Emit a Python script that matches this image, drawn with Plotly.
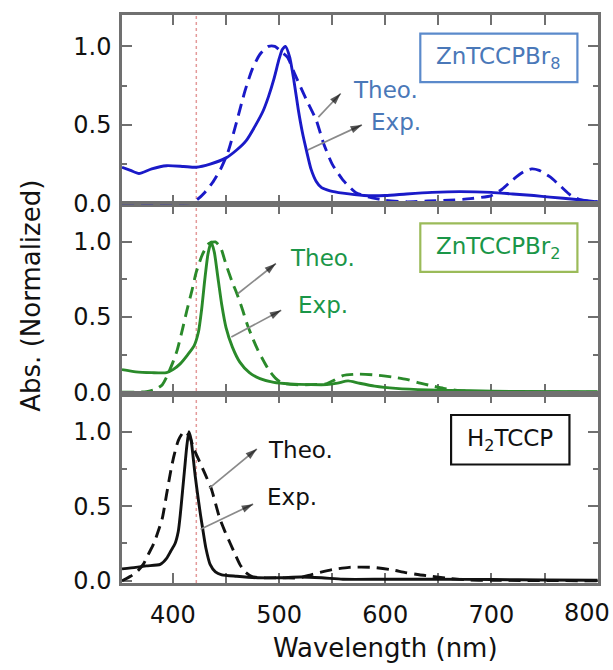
import plotly.graph_objects as go
from plotly.subplots import make_subplots

# ---------------- data ----------------
# Panel 1: ZnTCCPBr8 (blue)
br8_exp_wl = [352, 360, 368, 380, 394, 410, 422, 435, 450, 460, 469, 478, 485, 490, 495, 500, 503, 506, 510, 514,
              518, 522, 526, 530, 535, 540, 548, 560, 580, 600, 620, 644, 670, 700, 720, 740, 755, 780, 800]
br8_exp_val = [0.23, 0.21, 0.19, 0.22, 0.24, 0.235, 0.23, 0.25, 0.29, 0.34, 0.40, 0.50, 0.59, 0.68, 0.79, 0.92, 0.98,
               1.0, 0.93, 0.78, 0.60, 0.45, 0.33, 0.22, 0.14, 0.10, 0.08, 0.065, 0.05, 0.05, 0.06, 0.07, 0.075, 0.07,
               0.06, 0.05, 0.04, 0.025, 0.01]
br8_theo_wl = [352, 400, 415, 422, 430, 437, 445, 452, 460, 468, 475, 482, 490, 496, 503, 508, 515, 525, 535, 542,
               550, 560, 572, 585, 600, 620, 640, 660, 680, 700, 710, 720, 730, 738, 745, 755, 765, 775, 785, 800]
br8_theo_val = [0.0, 0.0, 0.003, 0.02, 0.07, 0.13, 0.22, 0.33, 0.52, 0.72, 0.86, 0.95, 1.0, 1.0, 0.96, 0.93, 0.82,
                0.67, 0.53, 0.38, 0.25, 0.15, 0.07, 0.04, 0.02, 0.01, 0.015, 0.02, 0.03, 0.05, 0.09, 0.15, 0.20,
                0.22, 0.21, 0.17, 0.11, 0.05, 0.02, 0.01]

# Panel 2: ZnTCCPBr2 (green)
br2_exp_wl = [352, 365, 380, 394, 400, 407, 414, 420, 424, 427, 430, 433, 436, 439, 442, 446, 450, 456, 463, 472,
              482, 495, 510, 530, 545, 555, 565, 575, 590, 610, 640, 680, 720, 800]
br2_exp_val = [0.15, 0.135, 0.13, 0.13, 0.15, 0.19, 0.25, 0.31, 0.40, 0.55, 0.75, 0.92, 1.0, 0.93, 0.78, 0.58, 0.43,
               0.30, 0.20, 0.13, 0.09, 0.065, 0.055, 0.05, 0.05, 0.06, 0.075, 0.06, 0.04, 0.025, 0.015, 0.01, 0.005,
               0.003]
br2_theo_wl = [352, 375, 384, 390, 394, 400, 404, 409, 413, 418, 422, 428, 434, 440, 445, 450, 456, 460, 465, 470,
               475, 480, 486, 491, 497, 503, 515, 530, 544, 552, 560, 575, 590, 607, 620, 630, 642, 655, 670, 690, 800]
br2_theo_val = [0.0, 0.003, 0.02, 0.05, 0.10, 0.20, 0.28, 0.42, 0.54, 0.68, 0.80, 0.92, 0.99, 1.0, 0.96, 0.85, 0.73,
                0.66, 0.56, 0.45, 0.36, 0.28, 0.20, 0.14, 0.09, 0.06, 0.05, 0.05, 0.055, 0.08, 0.11, 0.12, 0.115,
                0.10, 0.085, 0.065, 0.045, 0.025, 0.01, 0.003, 0.0]

# Panel 3: H2TCCP (black)
h2_exp_wl = [352, 365, 375, 388, 394, 398, 402, 405, 407, 409, 411, 413, 415, 417, 419, 421, 424, 426, 428, 431,
             435, 440, 446, 460, 480, 500, 520, 540, 560, 600, 650, 700, 750, 800]
h2_exp_val = [0.08, 0.09, 0.10, 0.11, 0.15, 0.20, 0.25, 0.33, 0.45, 0.60, 0.75, 0.90, 1.0, 0.95, 0.83, 0.70, 0.54,
              0.44, 0.35, 0.22, 0.11, 0.06, 0.04, 0.03, 0.02, 0.02, 0.025, 0.02, 0.01, 0.01, 0.01, 0.008, 0.005, 0.003]
h2_theo_wl = [352, 360, 366, 372, 377, 382, 386, 390, 394, 398, 401, 405, 409, 412, 416, 420, 425, 430, 436, 444,
              449, 454, 459, 463, 468, 474, 482, 500, 519, 530, 538, 550, 566, 588, 605, 619, 632, 644, 660, 680,
              700, 800]
h2_theo_val = [0.0, 0.03, 0.06, 0.11, 0.18, 0.25, 0.33, 0.42, 0.58, 0.74, 0.84, 0.94, 0.99, 1.0, 0.96, 0.88, 0.80,
               0.72, 0.62, 0.42, 0.33, 0.25, 0.17, 0.11, 0.06, 0.03, 0.02, 0.02, 0.02, 0.04, 0.055, 0.075, 0.09, 0.09,
               0.075, 0.055, 0.04, 0.03, 0.015, 0.005, 0.003, 0.0]

ref_line_wl = 422
panel_names = ["ZnTCCPBr<sub>8</sub>", "ZnTCCPBr<sub>2</sub>", "H<sub>2</sub>TCCP"]
y_ticks = [0.0, 0.5, 1.0]
y_tick_text = ["0.0", "0.5", "1.0"]
x_ticks = [400, 500, 600, 700]
x_tick_text = ["400", "500", "600", "700"]
x_edge_tick = 800           # sits at the right frame; its label is nudged left to stay inside the figure
x_edge_tick_text = "800"

# ---------------- styling ----------------
FONT = "DejaVu Sans"
line_colors = ["#1a1ac8", "#2a8a2a", "#111111"]
text_colors = ["#4a78b8", "#1a9648", "#111111"]
box_colors = ["#5b8acb", "#9bbb59", "#111111"]
frame = "#707070"

fig = make_subplots(rows=3, cols=1, shared_xaxes=True, vertical_spacing=0)

series = [
    (br8_exp_wl, br8_exp_val, br8_theo_wl, br8_theo_val),
    (br2_exp_wl, br2_exp_val, br2_theo_wl, br2_theo_val),
    (h2_exp_wl, h2_exp_val, h2_theo_wl, h2_theo_val),
]
for i, (ew, ev, tw, tv) in enumerate(series):
    r = i + 1
    fig.add_trace(go.Scatter(x=tw, y=tv, mode="lines", line=dict(color=line_colors[i], width=2.9,
                                                               dash="12px,7px", shape="spline", smoothing=0.6),
                             showlegend=False, hoverinfo="skip"), row=r, col=1)
    fig.add_trace(go.Scatter(x=ew, y=ev, mode="lines", line=dict(color=line_colors[i], width=2.9,
                                                               shape="spline", smoothing=0.6),
                             showlegend=False, hoverinfo="skip"), row=r, col=1)

y_ranges = [[-0.006, 1.2], [-0.01, 1.25], [-0.015, 1.255]]
x_range = [352, 800.4]
for i in range(3):
    r = i + 1
    fig.update_yaxes(row=r, col=1, range=y_ranges[i], tickvals=y_ticks, ticktext=y_tick_text,
                     ticks="inside", ticklen=10, tickwidth=2, tickcolor=frame,
                     minor=dict(tickvals=[0.25, 0.75], ticks="inside", ticklen=5, tickwidth=2, tickcolor=frame),
                     showline=True, linecolor=frame, linewidth=2.5, mirror="ticks",
                     showgrid=False, zeroline=False, layer="below traces", automargin=False,
                     tickfont=dict(family=FONT, size=24, color="#111111"), ticklabelstandoff=3)
    fig.update_xaxes(row=r, col=1, range=x_range, tickvals=x_ticks, ticktext=x_tick_text,
                     ticks="inside", ticklen=10, tickwidth=2, tickcolor=frame,
                     minor=dict(tickvals=[350, 450, 550, 650, 750, 800], ticks="inside", ticklen=10, tickwidth=2,
                                tickcolor=frame),
                     showline=True, linecolor=frame, linewidth=2.5, mirror="ticks",
                     showgrid=False, zeroline=False, layer="below traces", automargin=False,
                     tickfont=dict(family=FONT, size=24, color="#111111"), ticklabelstandoff=8)

# label for the tick at the right frame (kept inside the figure, as in the reference)
fig.add_annotation(xref="x3", yref="paper", x=x_edge_tick, y=-0.024, text=x_edge_tick_text, showarrow=False,
                   xanchor="center", yanchor="top", xshift=-11,
                   font=dict(family=FONT, size=24, color="#111111"))

# reference dotted line
fig.add_shape(type="line", xref="x3", yref="paper", x0=ref_line_wl, x1=ref_line_wl, y0=0, y1=1,
              line=dict(color="#e39a9a", width=1.5, dash="dot"), layer="below")

# boxes + labels
boxes = [(633, 781, 0.772, 1.081), (633, 781, 0.80, 1.123), (662, 773.5, 0.78, 1.112)]
for i, (x0, x1, y0, y1) in enumerate(boxes):
    xr = "x" if i == 0 else f"x{i+1}"
    yr = "y" if i == 0 else f"y{i+1}"
    fig.add_shape(type="rect", xref=xr, yref=yr, x0=x0, x1=x1, y0=y0, y1=y1,
                  line=dict(color=box_colors[i], width=2.2), fillcolor="white")
    fig.add_annotation(xref=xr, yref=yr, x=(x0 + x1) / 2, y=(y0 + y1) / 2, text=panel_names[i],
                       showarrow=False, font=dict(family=FONT, size=23, color=text_colors[i]))

# Theo./Exp. labels and arrows (tail on curve -> head toward label)
labels = [
    ((600, 0.725), (610, 0.52), ((537, 0.55), (558, 0.70)), ((527, 0.34), (578, 0.50))),
    ((541, 0.89), (541, 0.58), ((461, 0.655), (497, 0.856)), ((455, 0.367), (502, 0.545))),
    ((520, 0.88), (512, 0.56), ((434, 0.62), (479, 0.884)), ((426, 0.346), (475.5, 0.514))),
]
for i, (tpos, epos, tarr, earr) in enumerate(labels):
    r = i + 1
    xr = "x" if i == 0 else f"x{i+1}"
    yr = "y" if i == 0 else f"y{i+1}"
    fig.add_annotation(xref=xr, yref=yr, x=tpos[0], y=tpos[1], text="Theo.", showarrow=False,
                       font=dict(family=FONT, size=23, color=text_colors[i]))
    fig.add_annotation(xref=xr, yref=yr, x=epos[0], y=epos[1], text="Exp.", showarrow=False,
                       font=dict(family=FONT, size=23, color=text_colors[i]))
    for (t0, t1) in (tarr, earr):
        fig.add_trace(go.Scatter(x=[t0[0], t1[0]], y=[t0[1], t1[1]], mode="lines",
                                 line=dict(color="#8a8a8a", width=1.7), showlegend=False, hoverinfo="skip"),
                      row=r, col=1)
        fig.add_trace(go.Scatter(x=[t0[0], t1[0]], y=[t0[1], t1[1]], mode="markers",
                                 marker=dict(symbol="arrow", size=[0, 12], color="#111111",
                                             angleref="previous", line=dict(width=0)),
                                 showlegend=False, hoverinfo="skip"),
                      row=r, col=1)

# axis titles
fig.add_annotation(xref="paper", yref="paper", x=0.553, y=-0.114, text="Wavelength (nm)", showarrow=False,
                   font=dict(family=FONT, size=26, color="#111111"), xanchor="center", yanchor="middle")
fig.add_annotation(xref="paper", yref="paper", x=-0.19, y=0.505, text="Abs. (Normalized)", showarrow=False,
                   textangle=-90, font=dict(family=FONT, size=26, color="#111111"),
                   xanchor="center", yanchor="middle")

fig.update_layout(width=613, height=670, margin=dict(l=122, r=15, t=15, b=87, autoexpand=False),
                  plot_bgcolor="white", paper_bgcolor="white", showlegend=False)

fig.write_html("out.html")
